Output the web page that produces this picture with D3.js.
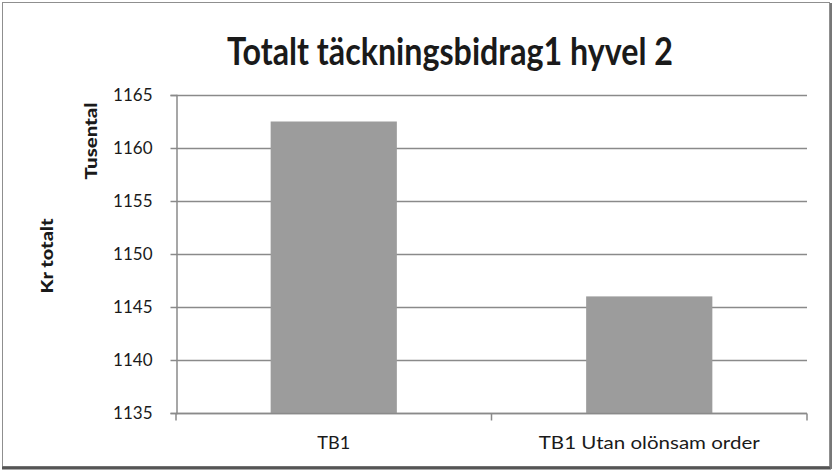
<!DOCTYPE html>
<html>
  <head>
    <meta charset="utf-8">
    <script src="https://d3js.org/d3.v7.min.js"></script>
    <style>
      body { margin: 0; background: #fff; }
      text { font-family: "Lato", "Open Sans", sans-serif; fill: #1a1a1a; }
    </style>
  </head>
  <body>
    <div class="visual"></div>
    <script>
      // data
      let categories = ['TB1', 'TB1 Utan olönsam order'];
      let values = [1162.5, 1146.0];
      let yTicks = [1135, 1140, 1145, 1150, 1155, 1160, 1165];

      let width = 835;
      let height = 473;
      let margin = {top: 95, right: 28, bottom: 60, left: 176};

      let svg = d3.select('.visual').append('svg')
        .attr('width', width)
        .attr('height', height);

      // outer chart border
      svg.append('rect')
        .attr('x', 2.5).attr('y', 2.5)
        .attr('width', 827).attr('height', 464)
        .attr('fill', '#fff')
        .attr('stroke', '#8f8f8f');
      svg.append('line')
        .attr('x1', 2).attr('x2', 831).attr('y1', 468).attr('y2', 468)
        .attr('stroke', '#555').attr('stroke-width', 3);
      svg.append('line')
        .attr('x1', 831).attr('x2', 831).attr('y1', 3).attr('y2', 469)
        .attr('stroke', '#777').attr('stroke-width', 2);

      let x = d3.scaleBand()
        .domain(categories)
        .range([margin.left, width - margin.right])
        .paddingInner(0.6)
        .paddingOuter(0.3);

      let y = d3.scaleLinear()
        .domain([1135, 1165])
        .range([height - margin.bottom, margin.top]);

      // gridlines
      svg.append('g')
        .selectAll('line')
        .data(yTicks)
        .enter().append('line')
        .attr('x1', margin.left)
        .attr('x2', width - margin.right)
        .attr('y1', d => Math.round(y(d)) + 0.5)
        .attr('y2', d => Math.round(y(d)) + 0.5)
        .attr('stroke', '#8a8a8a')
        .attr('stroke-width', 1.5);

      // bars
      svg.append('g')
        .selectAll('rect')
        .data(values)
        .enter().append('rect')
        .attr('x', (d, i) => x(categories[i]))
        .attr('y', d => y(d))
        .attr('width', x.bandwidth())
        .attr('height', d => y(1135) - y(d))
        .attr('fill', '#9c9c9c');

      // y axis
      let yAxis = svg.append('g')
        .attr('transform', 'translate(' + (margin.left + 0.5) + ',0)')
        .call(d3.axisLeft(y).tickValues(yTicks).tickFormat(d3.format('d')).tickSize(6).tickPadding(18));
      yAxis.select('.domain').attr('stroke', '#8a8a8a').attr('stroke-width', 1.5);
      yAxis.selectAll('.tick line').attr('stroke', '#8a8a8a').attr('stroke-width', 1.5);
      yAxis.selectAll('.tick text')
        .attr('font-family', 'Lato, sans-serif')
        .attr('font-size', 17)
        .attr('fill', '#1a1a1a');

      // x axis, ticks sit between the categories
      let xBase = Math.round(y(1135)) + 0.5;
      svg.append('line')
        .attr('x1', margin.left).attr('x2', width - margin.right)
        .attr('y1', xBase).attr('y2', xBase)
        .attr('stroke', '#8a8a8a').attr('stroke-width', 1.5);
      let bounds = [margin.left, (margin.left + width - margin.right) / 2, width - margin.right];
      svg.append('g')
        .selectAll('line')
        .data(bounds)
        .enter().append('line')
        .attr('x1', d => d).attr('x2', d => d)
        .attr('y1', xBase).attr('y2', xBase + 7)
        .attr('stroke', '#8a8a8a').attr('stroke-width', 1.5);

      let labelWidths = [33, 221];
      svg.append('g')
        .selectAll('text')
        .data(categories)
        .enter().append('text')
        .attr('x', d => x(d) + x.bandwidth() / 2)
        .attr('y', 449)
        .attr('text-anchor', 'middle')
        .attr('font-size', 17)
        .attr('textLength', (d, i) => labelWidths[i])
        .attr('lengthAdjust', 'spacingAndGlyphs')
        .text(d => d);

      // title
      svg.append('text')
        .attr('x', 450)
        .attr('y', 65)
        .attr('text-anchor', 'middle')
        .attr('font-size', 38)
        .attr('font-weight', 'bold')
        .attr('textLength', 446)
        .attr('lengthAdjust', 'spacingAndGlyphs')
        .text('Totalt täckningsbidrag1 hyvel 2');

      // axis titles
      svg.append('text')
        .attr('transform', 'translate(97,141) rotate(-90)')
        .attr('text-anchor', 'middle')
        .attr('font-size', 17)
        .attr('font-weight', 900)
        .attr('textLength', 77)
        .attr('lengthAdjust', 'spacingAndGlyphs')
        .text('Tusental');

      svg.append('text')
        .attr('transform', 'translate(53,256) rotate(-90)')
        .attr('text-anchor', 'middle')
        .attr('font-size', 17)
        .attr('font-weight', 900)
        .attr('textLength', 75)
        .attr('lengthAdjust', 'spacingAndGlyphs')
        .text('Kr totalt');
    </script>
  </body>
</html>
